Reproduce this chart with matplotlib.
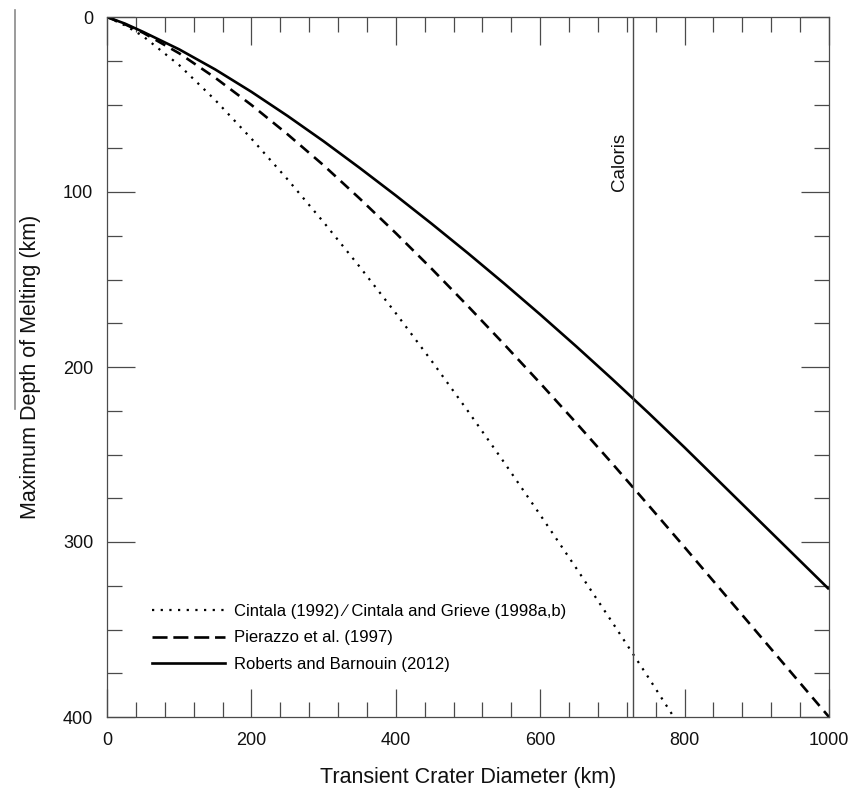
import numpy as np
import matplotlib.pyplot as plt
from matplotlib.lines import Line2D

plt.rcParams['font.family'] = ['Liberation Sans', 'DejaVu Sans']

# transient crater diameter (km) and maximum depth of melting (km)
diam = [0, 25, 50, 100, 150, 200, 250, 300, 350, 400, 450, 500,
        550, 600, 650, 700, 750, 800, 850, 900, 950, 1000]
roberts = [0, 3.8, 8.5, 18.5, 30, 42.75, 56.5, 71, 86.25, 102, 118.25, 135,
           152.25, 170, 188.25, 207, 226.25, 246, 266.25, 286.5, 306.75, 327]
pierazzo = [0, 4.2, 9, 20.75, 34.75, 50.25, 67, 84.75, 103.75, 123.5, 144, 165.25,
            187, 209.25, 232, 255.25, 279, 303, 327.25, 351.5, 375.75, 400]

diam_c = [0, 25, 50, 100, 150, 200, 250, 300, 350, 400, 450, 500,
          550, 600, 650, 700, 750, 785]
cintala = [0, 4.8, 11, 27.5, 47.5, 69.5, 92.75, 117.25, 142.75, 169.25, 196.75, 225.25,
           254.5, 284.5, 315, 346, 377.5, 400]

caloris = 728

labels = ['Cintala (1992) \u2215 Cintala and Grieve (1998a,b)',
          'Pierazzo et al. (1997)',
          'Roberts and Barnouin (2012)']

frame = '#4a4a4a'

fig = plt.figure(figsize=(8.5, 7.92), dpi=100)
ax = fig.add_axes([107/850, 1 - 717/792, 722/850, 700/792])

ax.plot(diam_c, cintala, color='black', lw=1.6, linestyle=(0, (1, 2.9)))
ax.plot(diam, pierazzo, color='black', lw=1.9, linestyle=(0, (4.2, 2.6)))
ax.plot(diam, roberts, color='black', lw=1.9, solid_capstyle='butt')

ax.axvline(caloris, color=frame, lw=1.0)
ax.annotate('Caloris', xy=(caloris, 83), xytext=(-3.5, 0), textcoords='offset points',
            rotation=90, ha='right', va='center', fontsize=13.5, color='#111111')

ax.set_xlim(0, 1000)
ax.set_ylim(400, 0)
ax.set_xticks(np.arange(0, 1001, 200))
ax.set_xticks(np.arange(0, 1001, 40), minor=True)
ax.set_yticks(np.arange(0, 401, 100))
ax.set_yticks(np.arange(0, 401, 25), minor=True)

for s in ax.spines.values():
    s.set_color(frame)
    s.set_linewidth(0.9)

ax.tick_params(which='both', direction='in', top=True, right=True,
               color=frame, width=0.9, labelsize=13, labelcolor='#111111')
ax.tick_params(which='major', length=20)
ax.tick_params(which='minor', length=10.5)
ax.tick_params(axis='x', which='major', pad=11)
ax.tick_params(axis='y', which='major', pad=10)

ax.set_xlabel('Transient Crater Diameter (km)', fontsize=15.5, labelpad=13, color='#111111')
ax.set_ylabel('Maximum Depth of Melting (km)', fontsize=15.5, labelpad=16, color='#111111')

handles = [Line2D([], [], color='black', lw=1.6, linestyle=(0, (1, 2.9))),
           Line2D([], [], color='black', lw=1.9, linestyle=(0, (5.7, 2.2))),
           Line2D([], [], color='black', lw=1.9)]
ax.legend(handles, labels, loc='upper left', bbox_to_anchor=(0.062, 0.162),
          frameon=False, fontsize=12, handlelength=4.4, handletextpad=0.55,
          labelspacing=0.71, borderpad=0, borderaxespad=0)

# faint scan edge at the far left of the original page
fig.add_artist(Line2D([15/850, 15/850], [1 - 10/792, 1 - 409/792],
                      transform=fig.transFigure, color='#8a8a8a', lw=1.2))

fig.savefig('out.png', dpi=100)
